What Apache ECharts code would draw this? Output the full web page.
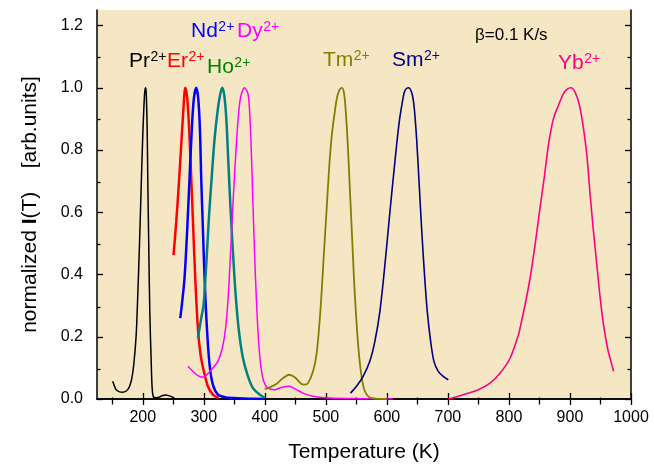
<!DOCTYPE html>
<html>
<head>
<meta charset="utf-8">
<script src="https://cdn.jsdelivr.net/npm/echarts@6/dist/echarts.min.js"></script>
<style>
  html, body { margin: 0; padding: 0; background: #ffffff; }
  #chart { width: 654px; height: 468px; }
</style>
</head>
<body>
<div id="chart"></div>
<script>
// Normalized thermoluminescence glow curves, [T (K), I/Imax]
const pr = [[150.8,0.057],[156.3,0.030],[162,0.023],[167.2,0.022],[175.4,0.030],[181,0.057],[185.2,0.11],[189.2,0.206],[191.8,0.334],[194.6,0.495],[197.3,0.676],[200,0.847],[202.8,0.975],[204.4,1.0],[205.6,0.986],[207.2,0.869],[208.2,0.708],[209.8,0.495],[211.5,0.281],[213.8,0.121],[215.4,0.035],[218,0.005],[223.5,0.004],[230,0.009],[236.8,0.013],[243.8,0.010],[252,0.003]];
const er = [[250.4,0.462],[254.8,0.569],[258.6,0.676],[263,0.815],[266.3,0.922],[269.6,1.0],[272.9,0.965],[276.2,0.858],[279.4,0.708],[282.7,0.548],[286,0.388],[290.3,0.228],[294.7,0.142],[300.1,0.089],[306.7,0.041],[314.9,0.014],[324.2,0.003]];
const nd = [[261.4,0.26],[264,0.302],[268.4,0.388],[272.9,0.548],[276.6,0.708],[280.4,0.869],[283.7,0.965],[287.6,1.0],[290.9,0.965],[293.6,0.869],[295.8,0.708],[298.5,0.548],[301.3,0.388],[305.1,0.228],[309.5,0.11],[314.9,0.046],[323.1,0.014],[334,0.006],[350,0.003],[375,0.001],[397,0.0]];
const ho = [[290.3,0.195],[295.8,0.26],[299.6,0.302],[304,0.43],[308.3,0.58],[312.8,0.708],[317.7,0.837],[323.1,0.933],[327.1,0.981],[330.3,1.0],[333.6,0.975],[336.9,0.90],[340.2,0.762],[343.5,0.623],[347.7,0.473],[352.2,0.334],[357.6,0.217],[364.2,0.131],[372.4,0.073],[380.6,0.035],[391.6,0.014],[399.8,0.004]];
const dy = [[273.9,0.105],[282.1,0.089],[290.3,0.075],[298.5,0.07],[305,0.078],[312.3,0.094],[323.1,0.121],[330.3,0.163],[335.7,0.228],[340.2,0.334],[343.9,0.473],[347.7,0.623],[351.6,0.762],[355.9,0.89],[360.3,0.97],[366.9,1.0],[372.4,0.981],[375.1,0.922],[377.9,0.794],[380.6,0.623],[383.3,0.462],[386.1,0.324],[389.4,0.196],[393.2,0.11],[398.1,0.057],[405.1,0.035],[416.1,0.03],[427.1,0.037],[439.6,0.041],[451.7,0.03],[462.6,0.019],[479,0.009],[506.4,0.003],[561,0.001],[610,0.0]];
const tm = [[399.8,0.033],[405.1,0.035],[418.8,0.048],[429.7,0.067],[439.6,0.078],[449,0.07],[460,0.048],[465,0.046],[470.8,0.051],[479,0.089],[484.6,0.142],[488.9,0.228],[492.8,0.334],[496.6,0.462],[501,0.60],[505.3,0.74],[509.7,0.847],[514.6,0.922],[518.4,0.97],[522.8,0.995],[526.6,1.0],[529.9,0.981],[532.7,0.922],[536,0.815],[539.3,0.676],[542.6,0.537],[545.8,0.399],[549.1,0.281],[552.9,0.174],[557.3,0.089],[562.2,0.035],[567.7,0.012],[574.9,0.003],[599.5,0.0]];
const sm = [[540.4,0.019],[550.2,0.041],[561.1,0.073],[572,0.121],[580.3,0.185],[588.5,0.281],[596.7,0.43],[604.9,0.60],[613.1,0.762],[620.2,0.89],[626.8,0.97],[629.6,0.991],[635,1.0],[640.6,0.985],[644.4,0.943],[648.7,0.837],[653,0.687],[656.9,0.548],[661.3,0.409],[666.2,0.281],[671.7,0.185],[677.1,0.121],[684.2,0.089],[692.4,0.073],[700.6,0.062]];
const yb = [[700.6,0.0],[725.2,0.014],[749.8,0.03],[769,0.051],[785.4,0.083],[801.8,0.131],[815.5,0.206],[818.2,0.228],[826.4,0.302],[834.6,0.388],[842.8,0.495],[849.9,0.60],[857.6,0.708],[864.6,0.815],[872.8,0.90],[881,0.943],[889.3,0.981],[894.9,0.995],[901.5,1.0],[908.5,0.985],[915.6,0.943],[922.2,0.869],[927.7,0.783],[933.1,0.655],[938.6,0.537],[944.1,0.43],[949.5,0.324],[955,0.238],[961.6,0.163],[967.1,0.121],[971.4,0.089]];

// Ion names and superscripts for the curve labels
const ions = ['Pr', 'Er', 'Nd', 'Ho', 'Dy', 'Tm', 'Sm', 'Yb'];
const charge = '2+';
const rate = 'β=0.1 K/s';

// Axis ticks
const xMajor = [200, 300, 400, 500, 600, 700, 800, 900, 1000];
const xMinor = [150, 250, 350, 450, 550, 650, 750, 850, 950];
const yMajor = [0, 0.2, 0.4, 0.6, 0.8, 1.0, 1.2];
const yMinor = [0.1, 0.3, 0.5, 0.7, 0.9, 1.1];

const FONT = '"Liberation Sans", Arial, sans-serif';
const seriesData = [pr, er, nd, ho, dy, tm, sm, yb];
const lineColors = ['#000000', '#ff0000', '#0000ff', '#008080', '#ff00ff', '#808000', '#000080', '#ff0080'];
const labelColors = ['#000000', '#ff0000', '#0000ff', '#008000', '#ff00ff', '#808000', '#000080', '#ff0080'];
const lineWidths = [1.5, 2.5, 2.5, 2.5, 1.5, 1.8, 1.6, 1.6];
// label placement: [left x, baseline y] of the element symbol
const labelPos = [[129, 72], [167, 72], [191, 42], [207, 78], [237, 42], [323, 71], [392, 71], [558, 74]];

const chart = echarts.init(document.getElementById('chart'), null, { renderer: 'canvas' });

const gridRect = { left: 97, right: 23, top: 10, bottom: 67 };
const X_RANGE = { min: 125, max: 1000 };
const Y_RANGE = { min: 0, max: 1.25 };
const tickStyle = { color: '#000', width: 1.3 };

// grid 0 carries the data, the frame and the major ticks; grid 1 (same rect) the minor ticks
function axis(gridIndex, pos, range, ticks, len, showLine, label) {
  return Object.assign({
    type: 'value', gridIndex: gridIndex, position: pos, splitLine: { show: false },
    axisLine: { show: showLine, lineStyle: { color: '#000', width: 1.5 } },
    axisTick: { show: true, inside: true, length: len, customValues: ticks, lineStyle: tickStyle },
    axisLabel: label || { show: false }
  }, range);
}

const xLabel = { show: true, customValues: xMajor, color: '#000', fontSize: 16, fontFamily: FONT, margin: 11, formatter: v => String(v) };
const yLabel = { show: true, customValues: yMajor, color: '#000', fontSize: 16, fontFamily: FONT, margin: 14, formatter: v => v.toFixed(1) };

const xAxes = [
  axis(0, 'bottom', X_RANGE, xMajor, 6, true, xLabel),
  axis(0, 'top', X_RANGE, xMajor, 6, true),
  axis(1, 'bottom', X_RANGE, xMinor, 3.5, false),
  axis(1, 'top', X_RANGE, xMinor, 3.5, false)
];
const yAxes = [
  axis(0, 'left', Y_RANGE, yMajor, 6, true, yLabel),
  axis(0, 'right', Y_RANGE, yMajor, 6, true),
  axis(1, 'left', Y_RANGE, yMinor, 3.5, false),
  axis(1, 'right', Y_RANGE, yMinor, 3.5, false)
];

xAxes[0].name = 'Temperature (K)';
xAxes[0].nameLocation = 'middle';
xAxes[0].nameGap = 43;
xAxes[0].nameTextStyle = { color: '#000', fontSize: 21, fontFamily: FONT };

yAxes[0].name = '{a|normalized }{b|I}{a|(T)    [arb.units]}';
yAxes[0].nameLocation = 'middle';
yAxes[0].nameGap = 56;
yAxes[0].nameTextStyle = {
  color: '#000', fontSize: 21, fontFamily: FONT,
  rich: {
    a: { fontSize: 21, fontFamily: FONT, color: '#000' },
    b: { fontSize: 21, fontFamily: FONT, color: '#000', fontWeight: 'bold' }
  }
};

const series = seriesData.map((d, i) => ({
  type: 'line', name: ions[i], data: d, xAxisIndex: 0, yAxisIndex: 0,
  showSymbol: false, smooth: 0.3, clip: true,
  lineStyle: { color: lineColors[i], width: lineWidths[i] },
  emphasis: { disabled: true }, animation: false
}));

// element symbols with their 2+ superscripts
const ctx = document.createElement('canvas').getContext('2d');
ctx.font = '21px ' + FONT;
const graphics = [];
ions.forEach((ion, i) => {
  const [x, y] = labelPos[i];
  const w = ctx.measureText(ion).width;
  graphics.push({
    type: 'text', x: x, y: y, z: 100,
    style: { text: ion, fill: labelColors[i], fontSize: 21, fontFamily: FONT, verticalAlign: 'bottom' }
  });
  graphics.push({
    type: 'text', x: x + w + 0.5, y: y - 8, z: 100,
    style: { text: charge, fill: labelColors[i], fontSize: 14, fontFamily: FONT, verticalAlign: 'bottom' }
  });
});
graphics.push({
  type: 'text', x: 475, y: 44, z: 100,
  style: { text: rate, fill: '#000', fontSize: 17, fontFamily: FONT, verticalAlign: 'bottom' }
});

chart.setOption({
  animation: false,
  backgroundColor: '#ffffff',
  grid: [
    Object.assign({ show: true, backgroundColor: '#f6e7c4', borderWidth: 0 }, gridRect),
    Object.assign({ show: false }, gridRect)
  ],
  xAxis: xAxes,
  yAxis: yAxes,
  series: series,
  graphic: graphics
});
</script>
</body>
</html>
